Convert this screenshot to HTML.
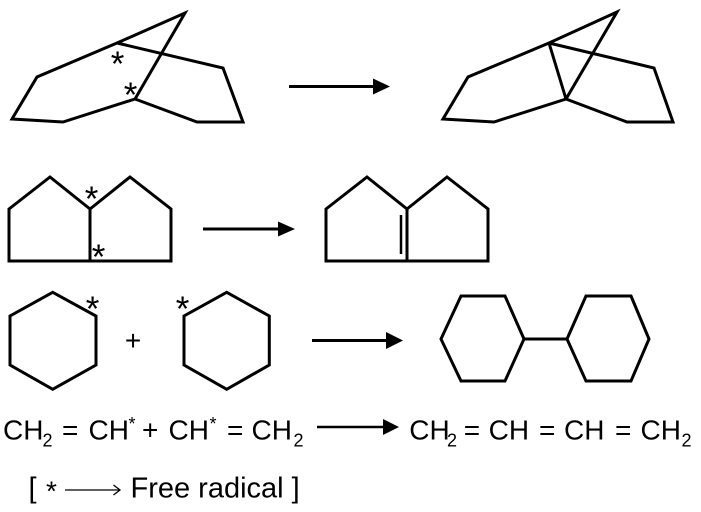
<!DOCTYPE html>
<html>
<head>
<meta charset="utf-8">
<style>
  html, body { margin: 0; padding: 0; background: #fff; }
  svg { display: block; }
  text { font-family: "Liberation Sans", Arial, sans-serif; fill: #000; }
</style>
</head>
<body>
<svg width="701" height="512" viewBox="0 0 701 512" xmlns="http://www.w3.org/2000/svg">
  <rect x="0" y="0" width="701" height="512" fill="#fff"/>
  <g fill="none" stroke="#000" stroke-width="3" stroke-linejoin="miter" stroke-miterlimit="10">
    <path d="M185,13 L117,43 L37,77 L12,119 L63,122 L135,99 Z"/>
    <path d="M117,43 L223,68 L243,122 L197,122 L135,99"/>
    <path d="M617,12 L549,43 L468,77 L443,119 L494,122 L566,99 Z"/>
    <path d="M549,43 L654,68 L673,122 L627,122 L566,99"/>
    <path d="M549,43 L566,99"/>

    <path d="M9,209 L50,177 L90,209 L130,177 L171,209 L171,261 L9,261 Z"/>
    <path d="M90,209 L90,261"/>
    <path d="M326,209 L367,177 L407,209 L447,177 L488,209 L488,261 L326,261 Z"/>
    <path d="M407,209 L407,261"/>
    <path d="M401,215 L401,254" stroke-width="2.5"/>

    <path d="M52.7,292.3 L96,316 L96,365 L52.7,389.3 L10,365 L10,316 Z"/>
    <path d="M226.7,292.3 L269.3,316 L269.3,365 L226.7,389.3 L184,365 L184,316 Z"/>
    <path d="M441,339 L461,296 L505,296 L524,339 L505,381 L461,381 Z"/>
    <path d="M524,339 L567,339"/>
    <path d="M567,339 L586,296 L631,296 L649,339 L631,381 L586,381 Z"/>

    <path d="M289,86.5 L375,86.5"/>
    <path d="M203,229 L280,229"/>
    <path d="M312,340.5 L388,340.5"/>
    <path d="M317,427 L385,427" stroke-width="2.5"/>
    <path d="M65,490 L119,490" stroke-width="1.3"/>
    <path d="M113.5,485 L120,490 L113.5,495" stroke-width="1.3" stroke-linejoin="miter"/>
  </g>
  <g fill="#000" stroke="none">
    <polygon points="373,78.5 390,86.5 373,94.5"/>
    <polygon points="278,221.5 295,229 278,236.5"/>
    <polygon points="386,332 403,340.5 386,349"/>
    <polygon points="383,419 399,427 383,435"/>
  </g>

  <g font-size="35" text-anchor="middle">
    <text x="117.5" y="76">*</text>
    <text x="130.5" y="107">*</text>
    <text x="91.5" y="211">*</text>
    <text x="98.5" y="269">*</text>
    <text x="92.5" y="321">*</text>
    <text x="182.5" y="321">*</text>
  </g>
  <text x="133" y="350" font-size="28" text-anchor="middle">+</text>

  <g font-size="28">
    <text x="3" y="439.5">CH</text>
    <text x="42.5" y="446.5" font-size="18">2</text>
    <text x="62" y="439.5">=</text>
    <text x="88.5" y="439.5">CH</text>
    <text x="128.5" y="430" font-size="18">*</text>
    <text x="142" y="439.5">+</text>
    <text x="168.5" y="439.5">CH</text>
    <text x="209.5" y="430" font-size="18">*</text>
    <text x="227" y="439.5">=</text>
    <text x="251.5" y="439.5">CH</text>
    <text x="293.5" y="446.5" font-size="18">2</text>
  </g>
  <g font-size="28">
    <text x="409.3" y="439.5">CH</text>
    <text x="447" y="446.5" font-size="18">2</text>
    <text x="463.7" y="439.5">=</text>
    <text x="488.6" y="439.5">CH</text>
    <text x="539" y="439.5">=</text>
    <text x="564" y="439.5">CH</text>
    <text x="615" y="439.5">=</text>
    <text x="640.5" y="439.5">CH</text>
    <text x="681.5" y="446.5" font-size="18">2</text>
  </g>

  <g font-size="29">
    <text x="28.5" y="497.5">[</text>
    <text x="46" y="500.5" font-size="28">*</text>
    <text x="130.5" y="497.5">Free radical ]</text>
  </g>
</svg>
</body>
</html>
